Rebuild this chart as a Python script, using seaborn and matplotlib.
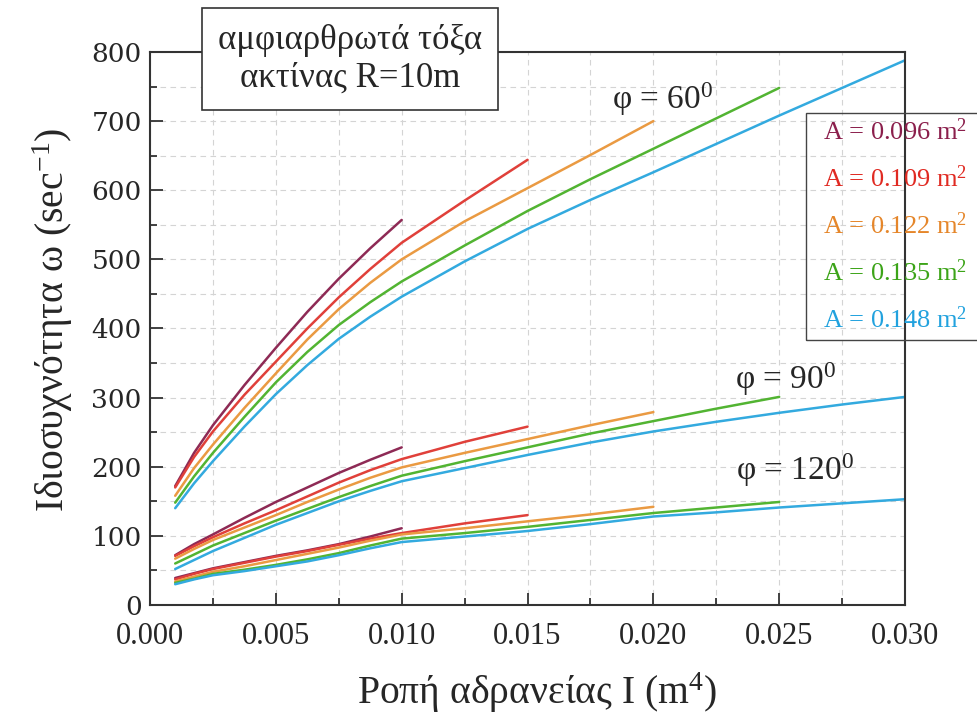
import matplotlib
matplotlib.use("Agg")
import matplotlib.pyplot as plt
import seaborn as sns
import pandas as pd
from matplotlib.ticker import MultipleLocator, FormatStrFormatter
from matplotlib.patches import Rectangle

# ---------------- data ----------------
I_values = [0.001, 0.00175, 0.0025, 0.00375, 0.005, 0.00625, 0.0075, 0.00875,
            0.010, 0.0125, 0.015, 0.0175, 0.020, 0.0225, 0.025, 0.0275, 0.030]
areas = ["0.096", "0.109", "0.122", "0.135", "0.148"]
phi_labels = ["60", "90", "120"]

# phi = 60 deg
w60_096 = [172, 220, 260, 318, 372, 424, 472, 516, 557]
w60_109 = [170, 214, 251, 304, 352, 400, 445, 486, 524, 585, 644]
w60_122 = [158, 198, 232, 285, 335, 384, 428, 466, 500, 555, 603, 651, 700]
w60_135 = [148, 186, 220, 272, 322, 366, 405, 438, 468, 520, 570, 616, 660, 704, 748]
w60_148 = [140, 176, 208, 258, 305, 347, 385, 417, 446, 497, 544, 586, 626, 667, 708, 748, 788]
# phi = 90 deg
w90_096 = [72, 88, 102, 126, 149, 170, 191, 210, 228]
w90_109 = [71, 85, 98, 118, 137, 157, 177, 195, 211, 236, 258]
w90_122 = [67, 81, 94, 112, 130, 149, 167, 184, 199, 220, 240, 260, 279]
w90_135 = [60, 73, 86, 104, 122, 139, 156, 172, 187, 208, 228, 248, 266, 284, 301]
w90_148 = [52, 65, 78, 97, 116, 133, 150, 165, 179, 198, 217, 235, 251, 265, 278, 290, 301]
# phi = 120 deg
w120_096 = [39, 46, 53, 62, 71, 79, 88, 99, 111]
w120_109 = [37, 45, 52, 61, 70, 78, 87, 96, 104, 118, 130]
w120_122 = [34, 41, 48, 56, 65, 74, 83, 93, 102, 111, 121, 131, 142]
w120_135 = [32, 38, 45, 51, 58, 66, 75, 86, 96, 104, 113, 123, 133, 141, 149]
w120_148 = [30, 37, 43, 49, 56, 63, 72, 82, 91, 99, 107, 117, 128, 134, 141, 147, 153]

series = {
    "60": [w60_096, w60_109, w60_122, w60_135, w60_148],
    "90": [w90_096, w90_109, w90_122, w90_135, w90_148],
    "120": [w120_096, w120_109, w120_122, w120_135, w120_148],
}

line_colors = ["#8E2A55", "#E0403A", "#EA9A42", "#52B432", "#33AADF"]
text_colors = ["#8B1F4C", "#E02A22", "#E5862A", "#3CA418", "#22A2DE"]

rows = []
for phi in phi_labels:
    for a, vals in zip(areas, series[phi]):
        for x, y in zip(I_values, vals):
            rows.append({"I": x, "omega": y, "A": a, "phi": phi})
df = pd.DataFrame(rows)

# ---------------- style ----------------
sns.set_style("ticks")
plt.rcParams["font.family"] = ["Liberation Serif", "DejaVu Serif"]
plt.rcParams["mathtext.fontset"] = "custom"
plt.rcParams["mathtext.rm"] = "Liberation Serif"
plt.rcParams["mathtext.it"] = "Liberation Serif:italic"
plt.rcParams["mathtext.bf"] = "Liberation Serif:bold"

fig, ax = plt.subplots(figsize=(9.78, 7.14), dpi=100)
fig.subplots_adjust(left=0.1534, right=0.9254, bottom=0.1527, top=0.9272)

sns.lineplot(data=df, x="I", y="omega", hue="A", units="phi", estimator=None,
             palette=dict(zip(areas, line_colors)), legend=False, sort=False,
             linewidth=1.8, ax=ax)

ax.set_xlim(0, 0.030)
ax.set_ylim(0, 800)
ax.xaxis.set_major_locator(MultipleLocator(0.005))
ax.xaxis.set_minor_locator(MultipleLocator(0.0025))
ax.yaxis.set_major_locator(MultipleLocator(100))
ax.yaxis.set_minor_locator(MultipleLocator(50))
ax.xaxis.set_major_formatter(FormatStrFormatter("%.3f"))
ax.grid(which="both", color="#d4d4d4", linestyle=(0, (5, 4)), linewidth=0.8)
ax.set_axisbelow(True)
ax.tick_params(which="both", direction="in", top=False, right=False,
               color="#333333", width=1.3)
ax.tick_params(which="major", length=9)
ax.tick_params(which="minor", length=5)
ax.tick_params(axis="x", labelsize=22, pad=12)
ax.tick_params(axis="y", labelsize=19, pad=6)
for lab in ax.get_yticklabels():
    lab.set_family("DejaVu Serif")
for sp in ax.spines.values():
    sp.set_color("#333333")
    sp.set_linewidth(1.5)

ax.set_xlabel("Ροπή αδρανείας I (m$^4$)", fontsize=28.5)
ax.set_ylabel("Ιδιοσυχνότητα ω (sec$^{-1}$)", fontsize=28.5)
ax.xaxis.set_label_coords(0.513, -0.118)
ax.yaxis.set_label_coords(-0.10, 0.515)

# title box
ax.text(0.265, 0.987, "αμφιαρθρωτά τόξα\nακτίνας R=10m", transform=ax.transAxes,
        ha="center", va="center", fontsize=25, linespacing=1.2, zorder=10,
        bbox=dict(boxstyle="square,pad=0.45", fc="white", ec="#333333", lw=1.2))

# phi labels
ax.text(0.01836, 731, "φ = 60$^0$", fontsize=24, va="center", ha="left")
ax.text(0.02325, 326, "φ = 90$^0$", fontsize=24, va="center", ha="left")
ax.text(0.0233, 195, "φ = 120$^0$", fontsize=24, va="center", ha="left")

# colored legend box (partly outside the axes)
W, H = 978.0, 714.0
fig.add_artist(Rectangle((806 / W, 1 - 340 / H), (990 - 806) / W, (340 - 113) / H,
                         transform=fig.transFigure, fill=False, ec="#444444", lw=1.0,
                         clip_on=False))
for i, (a, c) in enumerate(zip(areas, text_colors)):
    fig.text(823 / W, 1 - (132 + 47 * i) / H, f"A = {a} m$^2$", color=c,
             fontsize=19, ha="left", va="center")

fig.savefig("out.png", dpi=100)
